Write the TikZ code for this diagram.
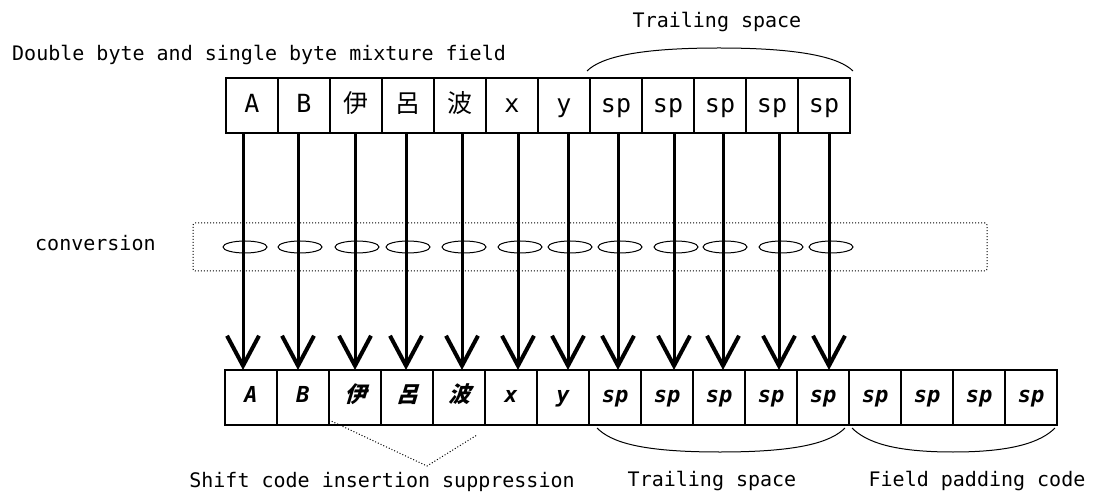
\documentclass[tikz,border=0pt]{standalone}
\usepackage{fontspec}
\setmainfont{DejaVu Sans Mono}
\newfontfamily\cjk{Noto Sans CJK JP}
\newfontfamily\cjkbi{Noto Sans CJK JP Bold}[FakeSlant=0.3]
\usepackage{tikz}
\usetikzlibrary{arrows.meta}

\begin{document}
\begin{tikzpicture}[x=1pt,y=-1pt,
	cell/.style={draw, line width=1.3pt, minimum width=52pt, minimum height=55pt, inner sep=0pt, outer sep=0pt},
	topcell/.style={cell, font=\fontsize{25}{25}\selectfont, text height=18pt, text depth=3pt},
	botcell/.style={cell, font=\fontsize{22}{22}\selectfont\bfseries\itshape, text height=15pt, text depth=5pt},
	conv/.style={line width=3pt, -{Straight Barb[length=30pt, width=32pt, line width=4pt]}},
	ring/.style={line width=1pt},
	convbox/.style={draw, dotted, line width=1pt, minimum width=794pt, minimum height=48pt, rounded corners=2pt},
	lbl/.style={font=\fontsize{20}{24}\selectfont, inner sep=0pt},
	brace/.style={line width=1pt},
	sup/.style={dotted, line width=1pt}]
\useasboundingbox (0,0) rectangle (1097,494);

% source field
\foreach \lab [count=\i] in {A,B,{\cjk 伊},{\cjk 呂},{\cjk 波},x,y,sp,sp,sp,sp,sp}
	\node[topcell] (t\i) at ({200+52*\i},105.5) {\lab};

% converted field
\foreach \lab [count=\i] in {A,B,{\cjkbi\upshape 伊},{\cjkbi\upshape 呂},{\cjkbi\upshape 波},x,y,sp,sp,sp,sp,sp,sp,sp,sp,sp}
	\node[botcell] (b\i) at ({199+52*\i},397.5) {\lab};

\node[convbox] (cbox) at (590,247) {};

% arrows through the conversion
\foreach \d [count=\i] in {-9,-6,-1,-2,2,6,4,2,6,3,7,5}{
	\draw[ring] ([xshift={\d pt+2pt}]t\i.south |- cbox.center) ellipse [x radius=22pt, y radius=6pt];
	\draw[conv] ([xshift=\d pt]t\i.south) -- ([xshift=\d pt]t\i.south |- b\i.north);
}

\node[lbl, anchor=base west] (title) at (12,61) {Double byte and single byte mixture field};
\node[lbl, anchor=base] (trail1) at (717,28) {Trailing space};
\node[lbl, anchor=base west] (convlbl) at (35,251) {conversion};
\node[lbl, anchor=base] (shiftlbl) at (382,487) {Shift code insertion suppression};
\node[lbl, anchor=base] (trail2) at (712,486) {Trailing space};
\node[lbl, anchor=base] (padlbl) at (977,486) {Field padding code};

% braces
\coordinate (tb1) at ([shift={(-3,-7)}]t8.north west);
\coordinate (tb2) at (719,48);
\coordinate (tb3) at ([shift={(3,-7)}]t12.north east);
\draw[brace] (tb1) .. controls +(14,-14) and +(-80,0) .. (tb2) .. controls +(80,0) and +(-14,-14) .. (tb3);

\coordinate (bb1) at ([shift={(8,3)}]b8.south west);
\coordinate (bb2) at (720,452);
\coordinate (bb3) at ([shift={(-4,3)}]b12.south east);
\draw[brace] (bb1) .. controls +(14,14) and +(-80,0) .. (bb2) .. controls +(80,0) and +(-14,14) .. (bb3);

\coordinate (pb1) at ([shift={(3,3)}]b13.south west);
\coordinate (pb2) at (953,452);
\coordinate (pb3) at ([shift={(-2,3)}]b16.south east);
\draw[brace] (pb1) .. controls +(14,14) and +(-60,0) .. (pb2) .. controls +(60,0) and +(-14,14) .. (pb3);

% shift code suppression
\coordinate (v1) at ([yshift=5]b3.south west);
\coordinate (v2) at (427,466);
\coordinate (v3) at ([shift={(-8,10)}]b5.south east);
\draw[sup] (v1) -- (v2) -- (v3);
\end{tikzpicture}
\end{document}
